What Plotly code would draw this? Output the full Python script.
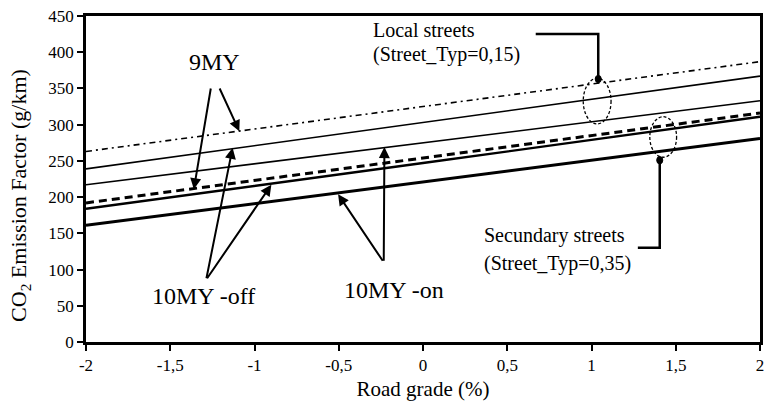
import plotly.graph_objects as go

# Road grade (%) at which each curve is sampled
grade = [-2, -1, 0, 1, 2]

# CO2 emission factors (g/km)
# Local streets (Street_Typ=0,15)
local_9my = [263, 294, 325, 356, 387]
local_10my_off = [239, 271, 303, 335, 367]
local_10my_on = [217, 246, 275, 304, 333]
# Secundary streets (Street_Typ=0,35)
sec_9my = [192, 223, 254, 285, 316]
sec_10my_off = [184, 215, 247, 279, 311]
sec_10my_on = [161, 191, 221, 251, 281]

x_ticks = [-2, -1.5, -1, -0.5, 0, 0.5, 1, 1.5, 2]
x_tick_text = ["-2", "-1,5", "-1", "-0,5", "0", "0,5", "1", "1,5", "2"]
y_ticks = [0, 50, 100, 150, 200, 250, 300, 350, 400, 450]

SERIF = "Liberation Serif, Times New Roman, serif"

fig = go.Figure()

series = [
    ("Local 9MY", local_9my, dict(width=1.6, dash="6px,4px,2px,4px")),
    ("Local 10MY -off", local_10my_off, dict(width=1.6)),
    ("Local 10MY -on", local_10my_on, dict(width=1.6)),
    ("Secundary 9MY", sec_9my, dict(width=3, dash="8px,5px")),
    ("Secundary 10MY -off", sec_10my_off, dict(width=2.4)),
    ("Secundary 10MY -on", sec_10my_on, dict(width=3)),
]
for name, vals, style in series:
    fig.add_trace(go.Scatter(x=grade, y=vals, mode="lines", name=name,
                             line=dict(color="black", **style),
                             showlegend=False, hoverinfo="skip"))

annotations = []

def label(text, x, y, size, xanchor="center"):
    annotations.append(dict(x=x, y=y, xref="x", yref="y", text=text,
                            showarrow=False, xanchor=xanchor, yanchor="middle",
                            font=dict(family=SERIF, size=size, color="black")))

def arrow(x_tail, y_tail, x_head, y_head):
    annotations.append(dict(x=x_head, y=y_head, ax=x_tail, ay=y_tail,
                            xref="x", yref="y", axref="x", ayref="y",
                            text="", showarrow=True, arrowhead=2,
                            arrowsize=1.1, arrowwidth=2, arrowcolor="black"))

# Vehicle class labels with pointers to their curves
label("9MY", -1.24, 386, 24)
arrow(-1.258, 352, -1.36, 211)
arrow(-1.211, 352, -1.09, 291)

label("10MY -off", -1.30, 64, 24)
arrow(-1.287, 86, -1.13, 268)
arrow(-1.287, 86, -0.90, 217)

label("10MY -on", -0.17, 72, 24)
arrow(-0.233, 110, -0.504, 204)
arrow(-0.233, 110, -0.229, 269)

# Street type labels
label("Local streets", -0.31, 431, 20, xanchor="left")
label("(Street_Typ=0,15)", -0.31, 397, 20, xanchor="left")
label("Secundary streets", 0.35, 147, 20, xanchor="left")
label("(Street_Typ=0,35)", 0.35, 109, 20, xanchor="left")

# Axis title on the left, with subscripted CO2
annotations.append(dict(x=-0.097, y=0.45, xref="paper", yref="paper",
                        xanchor="center", yanchor="middle",
                        text="CO<sub>2</sub> Emission Factor (g/km)",
                        textangle=-90, showarrow=False,
                        font=dict(family=SERIF, size=22, color="black")))

shapes = []
# Ellipses grouping the curves of each street type
shapes.append(dict(type="circle", xref="x", yref="y", x0=0.951, x1=1.116,
                   y0=301, y1=364, line=dict(color="black", width=1.3, dash="3px,2px")))
shapes.append(dict(type="circle", xref="x", yref="y", x0=1.346, x1=1.505,
                   y0=255, y1=311, line=dict(color="black", width=1.3, dash="3px,2px")))
# Leader lines from the street type labels to the ellipses
shapes.append(dict(type="path", xref="x", yref="y",
                   path="M 0.669 425 L 1.04 425 L 1.04 363",
                   line=dict(color="black", width=2.5)))
shapes.append(dict(type="path", xref="x", yref="y",
                   path="M 1.275 130 L 1.405 130 L 1.405 251",
                   line=dict(color="black", width=2.5)))
for cx, cy in [(1.04, 363), (1.405, 251)]:
    shapes.append(dict(type="circle", xref="x", yref="y",
                       x0=cx - 0.018, x1=cx + 0.018, y0=cy - 5, y1=cy + 5,
                       fillcolor="black", line=dict(color="black", width=1)))

fig.update_layout(
    width=770, height=407,
    margin=dict(l=86, r=6, t=16, b=65),
    paper_bgcolor="white", plot_bgcolor="white",
    font=dict(family=SERIF, size=17, color="black"),
    annotations=annotations, shapes=shapes,
)
fig.update_xaxes(range=[-2, 2], tickvals=x_ticks, ticktext=x_tick_text,
                 ticks="outside", ticklen=6, tickwidth=2, tickcolor="black",
                 showline=True, linewidth=2.5, linecolor="black", mirror=True,
                 showgrid=False, zeroline=False,
                 tickfont=dict(family=SERIF, size=17),
                 title=dict(text="Road grade (%)", standoff=8,
                            font=dict(family=SERIF, size=21)))
fig.update_yaxes(range=[0, 450], tickvals=y_ticks,
                 ticks="outside", ticklen=6, tickwidth=2, tickcolor="black",
                 showline=True, linewidth=2.5, linecolor="black", mirror=True,
                 showgrid=False, zeroline=False,
                 tickfont=dict(family=SERIF, size=17))

fig.write_html("out.html")
